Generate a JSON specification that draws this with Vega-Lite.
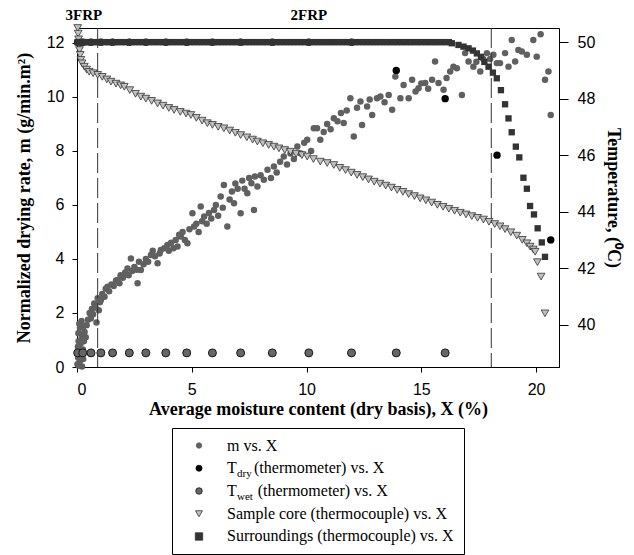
{
  "$schema": "https://vega.github.io/schema/vega-lite/v6.json",
  "padding": {"left": 14, "top": 7, "right": 5, "bottom": 0},
  "background": "white",
  "bounds": "flush",
  "center": true,
  "spacing": 61,
  "config": {
    "view": {"stroke": "black", "strokeWidth": 1},
    "axis": {
      "labelFont": "Liberation Sans", "labelFontSize": 16, "labelColor": "black",
      "titleFont": "Liberation Serif", "titleFontWeight": "bold", "titleFontSize": 18, "titleColor": "black",
      "domainColor": "black", "tickColor": "black", "grid": false
    }
  },
  "datasets": {
    "m": [
      {"X":0.02,"v":0.1},{"X":0.05,"v":0.35},{"X":0.08,"v":0.05},{"X":0.1,"v":0.55},{"X":0.12,"v":0.2},{"X":0.04,"v":0.75},{"X":0.07,"v":0.95},{"X":0.15,"v":0.85},{"X":0.18,"v":0.4},{"X":0.2,"v":1.05},{"X":0.06,"v":1.25},{"X":0.13,"v":1.45},{"X":0.24,"v":1.2},{"X":0.1,"v":1.6},{"X":0.26,"v":0.65},{"X":0.28,"v":1.5},{"X":0.2,"v":1.7},{"X":0.3,"v":0.95},{"X":0.33,"v":1.3},{"X":0.38,"v":1.1},{"X":0.22,"v":0.02},{"X":0.27,"v":0.3},{"X":0.42,"v":1.55},{"X":0.48,"v":1.75},{"X":0.55,"v":2.0},{"X":0.6,"v":1.8},{"X":0.65,"v":2.15},{"X":0.7,"v":1.95},{"X":0.75,"v":2.35},{"X":0.8,"v":2.2},{"X":0.85,"v":1.65},{"X":0.9,"v":2.55},
      {"X":0.95,"v":2.1},{"X":1.0,"v":2.4},{"X":1.04,"v":2.48},{"X":1.1,"v":2.7},{"X":1.2,"v":2.6},{"X":1.25,"v":2.9},{"X":1.33,"v":2.97},{"X":1.4,"v":2.8},{"X":1.5,"v":3.05},{"X":1.6,"v":3.0},{"X":1.7,"v":3.2},{"X":1.77,"v":3.22},{"X":1.85,"v":3.1},{"X":1.9,"v":3.4},{"X":2.0,"v":3.3},{"X":2.1,"v":3.5},{"X":2.2,"v":3.65},{"X":2.25,"v":3.4},{"X":2.35,"v":4.02},{"X":2.4,"v":3.55},{"X":2.5,"v":3.7},{"X":2.6,"v":3.6},{"X":2.64,"v":3.1},{"X":2.7,"v":3.9},{"X":2.78,"v":3.59},{"X":2.9,"v":3.8},{"X":3.0,"v":4.0},{"X":3.1,"v":3.9},{"X":3.22,"v":4.15},{"X":3.3,"v":4.3},{"X":3.4,"v":4.1},{"X":3.51,"v":3.84},{"X":3.6,"v":4.2},{"X":3.65,"v":4.33},{"X":3.8,"v":4.4},{"X":3.94,"v":4.52},{"X":4.0,"v":4.3},{"X":4.1,"v":4.6},{"X":4.2,"v":4.4},{"X":4.3,"v":4.7},{"X":4.38,"v":4.46},{"X":4.45,"v":4.9},{"X":4.52,"v":4.83},{"X":4.6,"v":5.0},{"X":4.7,"v":4.7},{"X":4.81,"v":4.58},{"X":4.9,"v":5.1},{"X":5.03,"v":5.69},{"X":5.1,"v":5.2},{"X":5.2,"v":5.3},{"X":5.3,"v":5.0},{"X":5.39,"v":5.94},{"X":5.45,"v":5.4},{"X":5.54,"v":5.57},{"X":5.65,"v":5.3},{"X":5.75,"v":5.7},{"X":5.85,"v":5.5},{"X":5.97,"v":5.81},{"X":6.05,"v":6.0},{"X":6.15,"v":5.6},{"X":6.26,"v":6.31},{"X":6.35,"v":5.9},{"X":6.4,"v":6.74},{"X":6.55,"v":5.2},{"X":6.65,"v":6.2},{"X":6.75,"v":6.5},{"X":6.84,"v":6.06},{"X":6.9,"v":6.79},{"X":7.0,"v":6.6},{"X":7.13,"v":5.69},{"X":7.2,"v":6.9},{"X":7.3,"v":6.6},{"X":7.42,"v":6.43},{"X":7.5,"v":7.0},{"X":7.6,"v":6.8},{"X":7.71,"v":5.81},{"X":7.75,"v":7.05},{"X":7.86,"v":6.68},{"X":8.0,"v":7.1},{"X":8.14,"v":6.93},{"X":8.3,"v":7.3},{"X":8.45,"v":7.0},{"X":8.58,"v":7.42},{"X":8.7,"v":7.2},{"X":8.85,"v":7.6},{"X":9.01,"v":7.79},{"X":9.15,"v":7.5},{"X":9.3,"v":7.9},{"X":9.45,"v":7.7},{"X":9.6,"v":8.16},{"X":9.75,"v":7.9},{"X":9.9,"v":8.3},{"X":10.03,"v":8.41},{"X":10.2,"v":8.0},{"X":10.32,"v":8.84},{"X":10.46,"v":8.84},{"X":10.6,"v":8.41},{"X":10.75,"v":8.7},{"X":10.9,"v":9.0},{"X":11.05,"v":8.8},{"X":11.19,"v":9.21},{"X":11.35,"v":9.1},{"X":11.5,"v":9.4},{"X":11.62,"v":9.03},{"X":11.75,"v":9.5},{"X":11.91,"v":9.95},{"X":12.06,"v":8.53},{"X":12.2,"v":9.6},{"X":12.35,"v":9.83},{"X":12.42,"v":8.96},{"X":12.64,"v":9.64},{"X":12.75,"v":9.9},{"X":12.86,"v":9.33},{"X":13.07,"v":9.95},{"X":13.22,"v":10.01},{"X":13.4,"v":9.8},{"X":13.58,"v":10.07},{"X":13.73,"v":9.52},{"X":13.87,"v":10.75},{"X":14.09,"v":9.95},{"X":14.23,"v":10.44},{"X":14.45,"v":9.95},{"X":14.6,"v":10.63},{"X":14.75,"v":10.2},{"X":14.88,"v":10.32},{"X":15.0,"v":10.5},{"X":15.17,"v":10.51},{"X":15.3,"v":10.3},{"X":15.47,"v":10.63},{"X":15.6,"v":11.31},{"X":15.75,"v":10.51},{"X":15.97,"v":10.26},{"X":16.1,"v":10.7},{"X":16.26,"v":10.94},{"X":16.4,"v":11.12},{"X":16.55,"v":11.06},{"X":16.77,"v":10.07},{"X":16.91,"v":11.62},{"X":17.06,"v":11.31},{"X":17.27,"v":11.12},{"X":17.4,"v":11.3},{"X":17.57,"v":10.94},{"X":17.7,"v":11.4},{"X":17.86,"v":11.62},{"X":18.0,"v":11.4},{"X":18.14,"v":11.56},{"X":18.29,"v":11.25},{"X":18.43,"v":11.25},{"X":18.65,"v":11.62},{"X":18.8,"v":11.12},{"X":18.94,"v":12.11},{"X":19.09,"v":11.31},{"X":19.23,"v":11.74},{"X":19.38,"v":11.68},{"X":19.6,"v":11.56},{"X":19.88,"v":12.11},{"X":20.03,"v":11.49},{"X":20.2,"v":12.32},{"X":20.39,"v":10.63},{"X":20.54,"v":10.94},{"X":20.64,"v":9.33}
    ],
    "tdry": [
      {"X":0.03,"v":50},{"X":0.25,"v":50},{"X":0.61,"v":50},{"X":1.04,"v":50},{"X":1.55,"v":50},{"X":2.28,"v":50},{"X":3.0,"v":50},{"X":3.87,"v":50},{"X":4.78,"v":50},{"X":5.9,"v":50},{"X":7.13,"v":50},{"X":8.51,"v":50},{"X":10.1,"v":50},{"X":11.96,"v":50},{"X":13.91,"v":49.0},{"X":16.04,"v":48.0},{"X":18.3,"v":46.0},{"X":20.64,"v":43.0}
    ],
    "twet": [
      {"X":0.03,"v":39},{"X":0.25,"v":39},{"X":0.61,"v":39},{"X":1.04,"v":39},{"X":1.55,"v":39},{"X":2.28,"v":39},{"X":3.0,"v":39},{"X":3.87,"v":39},{"X":4.78,"v":39},{"X":5.9,"v":39},{"X":7.13,"v":39},{"X":8.51,"v":39},{"X":10.1,"v":39},{"X":11.96,"v":39},{"X":13.91,"v":39},{"X":16.04,"v":39}
    ],
    "core": [
      {"X":0.03,"v":50.5},{"X":0.05,"v":50.3},{"X":0.07,"v":50.1},{"X":0.09,"v":49.9},{"X":0.11,"v":49.72},{"X":0.14,"v":49.55},{"X":0.17,"v":49.37},{"X":0.22,"v":49.25},{"X":0.32,"v":49.13},{"X":0.42,"v":49.03},{"X":0.53,"v":48.95},{"X":0.7,"v":48.9},{"X":0.9,"v":48.84},{"X":1.1,"v":48.77},{"X":1.3,"v":48.68},{"X":1.48,"v":48.6},{"X":1.7,"v":48.53},{"X":1.9,"v":48.47},{"X":2.06,"v":48.42},{"X":2.3,"v":48.3},{"X":2.55,"v":48.17},{"X":2.78,"v":48.07},{"X":3.0,"v":48.0},{"X":3.25,"v":47.92},{"X":3.51,"v":47.83},{"X":3.75,"v":47.75},{"X":4.0,"v":47.67},{"X":4.23,"v":47.6},{"X":4.5,"v":47.53},{"X":4.75,"v":47.47},{"X":4.96,"v":47.42},{"X":5.2,"v":47.32},{"X":5.45,"v":47.22},{"X":5.68,"v":47.13},{"X":5.9,"v":47.07},{"X":6.15,"v":47.0},{"X":6.4,"v":46.95},{"X":6.65,"v":46.87},{"X":6.9,"v":46.79},{"X":7.13,"v":46.71},{"X":7.4,"v":46.63},{"X":7.65,"v":46.55},{"X":7.86,"v":46.48},{"X":8.1,"v":46.42},{"X":8.35,"v":46.36},{"X":8.58,"v":46.3},{"X":8.8,"v":46.24},{"X":9.05,"v":46.18},{"X":9.3,"v":46.12},{"X":9.55,"v":46.05},{"X":9.8,"v":46.0},{"X":10.03,"v":45.95},{"X":10.3,"v":45.86},{"X":10.6,"v":45.77},{"X":10.9,"v":45.72},{"X":11.19,"v":45.65},{"X":11.45,"v":45.55},{"X":11.7,"v":45.47},{"X":11.95,"v":45.38},{"X":12.2,"v":45.3},{"X":12.45,"v":45.22},{"X":12.7,"v":45.14},{"X":12.95,"v":45.06},{"X":13.2,"v":44.99},{"X":13.45,"v":44.92},{"X":13.7,"v":44.85},{"X":13.95,"v":44.77},{"X":14.2,"v":44.7},{"X":14.45,"v":44.62},{"X":14.7,"v":44.55},{"X":14.95,"v":44.47},{"X":15.2,"v":44.4},{"X":15.45,"v":44.32},{"X":15.7,"v":44.24},{"X":15.95,"v":44.17},{"X":16.2,"v":44.1},{"X":16.45,"v":44.03},{"X":16.7,"v":43.96},{"X":16.95,"v":43.9},{"X":17.2,"v":43.84},{"X":17.45,"v":43.78},{"X":17.71,"v":43.72},{"X":17.95,"v":43.64},{"X":18.2,"v":43.56},{"X":18.43,"v":43.48},{"X":18.65,"v":43.38},{"X":18.9,"v":43.27},{"X":19.16,"v":43.15},{"X":19.4,"v":43.0},{"X":19.6,"v":42.88},{"X":19.74,"v":42.76},{"X":19.88,"v":42.66},{"X":19.96,"v":42.58},{"X":20.06,"v":42.21},{"X":20.22,"v":41.7},{"X":20.39,"v":40.4}
    ],
    "surr": [
      {"X":0.02,"v":50},{"X":0.05,"v":50},{"X":0.08,"v":50},{"X":0.12,"v":50},{"X":0.16,"v":50},{"X":0.2,"v":50},{"X":0.25,"v":50},{"X":0.3,"v":50},{"X":0.4,"v":50},{"X":0.5,"v":50},{"X":0.62,"v":50},{"X":0.75,"v":50},{"X":0.9,"v":50},{"X":1.05,"v":50},{"X":1.2,"v":50},{"X":1.35,"v":50},{"X":1.5,"v":50},{"X":1.65,"v":50},{"X":1.8,"v":50},{"X":1.95,"v":50},{"X":2.1,"v":50},{"X":2.25,"v":50},{"X":2.4,"v":50},{"X":2.55,"v":50},{"X":2.7,"v":50},{"X":2.85,"v":50},{"X":3.0,"v":50},{"X":3.15,"v":50},{"X":3.3,"v":50},{"X":3.45,"v":50},{"X":3.6,"v":50},{"X":3.75,"v":50},{"X":3.9,"v":50},{"X":4.05,"v":50},{"X":4.2,"v":50},{"X":4.35,"v":50},{"X":4.5,"v":50},{"X":4.65,"v":50},{"X":4.8,"v":50},{"X":4.95,"v":50},{"X":5.1,"v":50},{"X":5.25,"v":50},{"X":5.4,"v":50},{"X":5.55,"v":50},{"X":5.7,"v":50},{"X":5.85,"v":50},{"X":6.0,"v":50},{"X":6.15,"v":50},{"X":6.3,"v":50},{"X":6.45,"v":50},{"X":6.6,"v":50},{"X":6.75,"v":50},{"X":6.9,"v":50},{"X":7.05,"v":50},{"X":7.2,"v":50},{"X":7.35,"v":50},{"X":7.5,"v":50},{"X":7.65,"v":50},{"X":7.8,"v":50},{"X":7.95,"v":50},{"X":8.1,"v":50},{"X":8.25,"v":50},{"X":8.4,"v":50},{"X":8.55,"v":50},{"X":8.7,"v":50},{"X":8.85,"v":50},{"X":9.0,"v":50},{"X":9.15,"v":50},{"X":9.3,"v":50},{"X":9.45,"v":50},{"X":9.6,"v":50},{"X":9.75,"v":50},{"X":9.9,"v":50},{"X":10.05,"v":50},{"X":10.2,"v":50},{"X":10.35,"v":50},{"X":10.5,"v":50},{"X":10.65,"v":50},{"X":10.8,"v":50},{"X":10.95,"v":50},{"X":11.1,"v":50},{"X":11.25,"v":50},{"X":11.4,"v":50},{"X":11.55,"v":50},{"X":11.7,"v":50},{"X":11.85,"v":50},{"X":12.0,"v":50},{"X":12.15,"v":50},{"X":12.3,"v":50},{"X":12.45,"v":50},{"X":12.6,"v":50},{"X":12.75,"v":50},{"X":12.9,"v":50},{"X":13.05,"v":50},{"X":13.2,"v":50},{"X":13.35,"v":50},{"X":13.5,"v":50},{"X":13.65,"v":50},{"X":13.8,"v":50},{"X":13.95,"v":50},{"X":14.1,"v":50},{"X":14.25,"v":50},{"X":14.4,"v":50},{"X":14.55,"v":50},{"X":14.7,"v":50},{"X":14.85,"v":50},{"X":15.0,"v":50},{"X":15.15,"v":50},{"X":15.3,"v":50},{"X":15.45,"v":50},{"X":15.6,"v":50},{"X":15.75,"v":50},{"X":15.9,"v":50},{"X":16.05,"v":50},{"X":16.2,"v":50},
      {"X":16.33,"v":49.96},{"X":16.62,"v":49.9},{"X":16.84,"v":49.84},{"X":17.06,"v":49.78},{"X":17.25,"v":49.7},{"X":17.42,"v":49.6},{"X":17.6,"v":49.48},{"X":17.75,"v":49.3},{"X":17.93,"v":49.13},{"X":18.12,"v":48.92},{"X":18.29,"v":48.72},{"X":18.47,"v":48.3},{"X":18.65,"v":47.8},{"X":18.8,"v":47.3},{"X":18.94,"v":46.81},{"X":19.12,"v":46.3},{"X":19.27,"v":45.92},{"X":19.45,"v":45.2},{"X":19.6,"v":44.81},{"X":19.74,"v":44.2},{"X":19.91,"v":43.9},{"X":20.07,"v":43.41},{"X":20.25,"v":42.91},{"X":20.39,"v":42.4}
    ],
    "lines": [{"X":0.9},{"X":18.05}],
    "notes": [{"X":0.3,"v":13.04,"t":"3FRP"},{"X":10.1,"v":13.04,"t":"2FRP"}],
    "legend": [
      {"k":"m","t":"m vs. X","s":""},
      {"k":"dry","t":"T","s":"dry"},
      {"k":"wet","t":"T","s":"wet"},
      {"k":"core","t":"Sample core (thermocouple) vs. X","s":""},
      {"k":"surr","t":"Surroundings (thermocouple) vs. X","s":""}
    ]
  },
  "vconcat": [
    {
      "width": 482,
      "height": 339,
      "encoding": {
        "x": {
          "field": "X", "type": "quantitative",
          "scale": {"domain": [0, 21], "nice": false, "zero": false},
          "axis": {"values": [0, 5, 10, 15, 20], "title": "Average moisture content (dry basis), X (%)", "tickSize": 5, "labelPadding": 9, "titlePadding": 3}
        }
      },
      "layer": [
        {
          "encoding": {
            "y": {
              "field": "v", "type": "quantitative",
              "scale": {"domain": [0, 12.55], "nice": false, "zero": false},
              "axis": {"orient": "left", "values": [0, 2, 4, 6, 8, 10, 12], "title": "Normalized drying rate, m (g/min.m²)", "tickSize": 5, "labelPadding": 8, "titlePadding": 13}
            }
          },
          "layer": [
            {"data": {"name": "m"}, "mark": {"type": "point", "filled": true, "color": "#606060", "size": 42, "opacity": 1}},
            {"data": {"name": "lines"}, "mark": {"type": "rule", "color": "#333333", "strokeWidth": 1, "strokeDash": [20, 5]}, "encoding": {"y": null}},
            {"data": {"name": "notes"}, "mark": {"type": "text", "font": "Liberation Serif", "fontWeight": "bold", "fontSize": 15, "color": "black", "align": "center", "baseline": "middle"}, "encoding": {"text": {"field": "t"}}}
          ]
        },
        {
          "encoding": {
            "y": {
              "field": "v", "type": "quantitative",
              "scale": {"domain": [38.5, 50.5], "nice": false, "zero": false},
              "axis": {"orient": "right", "values": [40, 42, 44, 46, 48, 50], "title": "Temperature, (⁰C)", "tickSize": 9, "labelPadding": 9, "titlePadding": 9}
            }
          },
          "layer": [
            {"data": {"name": "tdry"}, "mark": {"type": "point", "filled": true, "color": "#000000", "size": 55, "opacity": 1}},
            {"data": {"name": "twet"}, "mark": {"type": "point", "filled": true, "fill": "#666666", "stroke": "#1a1a1a", "strokeWidth": 1, "size": 64, "opacity": 1}},
            {"data": {"name": "core"}, "mark": {"type": "point", "shape": "triangle-down", "filled": true, "fill": "#c0c0c0", "stroke": "#333333", "strokeWidth": 0.8, "size": 60, "opacity": 1}},
            {"data": {"name": "surr"}, "mark": {"type": "point", "shape": "square", "filled": true, "color": "#333333", "size": 40, "opacity": 1}}
          ]
        }
      ],
      "resolve": {"scale": {"y": "independent"}}
    },
    {
      "width": 292,
      "height": 126,
      "data": {"name": "legend"},
      "encoding": {
        "y": {"field": "k", "type": "nominal", "scale": {"type": "point", "domain": ["m", "dry", "wet", "core", "surr"], "padding": 0.77}, "axis": null}
      },
      "layer": [
        {
          "mark": {"type": "point", "filled": true, "strokeWidth": 0.8, "opacity": 1},
          "encoding": {
            "x": {"value": 27},
            "shape": {"field": "k", "type": "nominal", "scale": {"domain": ["m", "dry", "wet", "core", "surr"], "range": ["circle", "circle", "circle", "triangle-down", "square"]}, "legend": null},
            "fill": {"field": "k", "type": "nominal", "scale": {"domain": ["m", "dry", "wet", "core", "surr"], "range": ["#606060", "#000000", "#666666", "#c0c0c0", "#333333"]}, "legend": null},
            "stroke": {"field": "k", "type": "nominal", "scale": {"domain": ["m", "dry", "wet", "core", "surr"], "range": ["#606060", "#000000", "#1a1a1a", "#333333", "#333333"]}, "legend": null},
            "size": {"field": "k", "type": "ordinal", "scale": {"domain": ["m", "dry", "wet", "core", "surr"], "range": [30, 55, 55, 45, 40]}, "legend": null}
          }
        },
        {
          "mark": {"type": "text", "font": "Liberation Serif", "fontSize": 16, "color": "black", "align": "left", "baseline": "middle"},
          "encoding": {"x": {"value": 55}, "text": {"field": "t"}}
        },
        {
          "transform": [{"filter": "datum.s != ''"}],
          "mark": {"type": "text", "font": "Liberation Serif", "fontSize": 11, "color": "black", "align": "left", "baseline": "middle", "dy": 6},
          "encoding": {"x": {"value": 65}, "text": {"field": "s"}}
        },
        {
          "transform": [{"filter": "datum.k == 'dry'"}],
          "mark": {"type": "text", "font": "Liberation Serif", "fontSize": 16, "color": "black", "align": "left", "baseline": "middle"},
          "encoding": {"x": {"value": 82}, "text": {"value": "(thermometer) vs. X"}}
        },
        {
          "transform": [{"filter": "datum.k == 'wet'"}],
          "mark": {"type": "text", "font": "Liberation Serif", "fontSize": 16, "color": "black", "align": "left", "baseline": "middle"},
          "encoding": {"x": {"value": 85.7}, "text": {"value": "(thermometer) vs. X"}}
        }
      ]
    }
  ]
}
